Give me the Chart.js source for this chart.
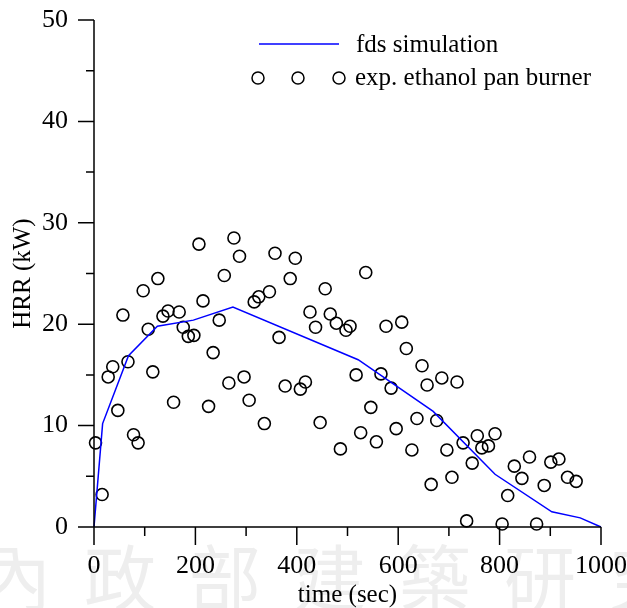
<!DOCTYPE html>
<html>
<head>
<meta charset="utf-8">
<script src="https://cdn.jsdelivr.net/npm/chart.js@4.4.0/dist/chart.umd.min.js"></script>
<style>
  html, body { margin: 0; padding: 0; background: #fff; }
  #wrap { width: 627px; height: 608px; }
</style>
</head>
<body>
<div id="wrap"><canvas id="chart"></canvas></div>
<script>
// fds simulation curve (time in sec, HRR in kW)
const simTime = [0, 17, 68, 125, 196, 274, 521, 669, 791, 903, 959, 1000];
const simHrr = [0, 10.2, 16.9, 19.8, 20.4, 21.7, 16.5, 11.4, 5.2, 1.5, 0.9, 0];

// exp. ethanol pan burner readings
const expTime = [3, 16, 28, 37, 47, 57, 67, 78, 87, 97,
  107, 116, 126, 136, 146, 157, 168, 176, 186, 197,
  207, 215, 226, 235, 247, 257, 266, 276, 287, 296,
  306, 316, 325, 336, 346, 357, 365, 377, 387, 397,
  407, 417, 426, 437, 446, 456, 466, 478, 486, 497,
  505, 517, 526, 536, 546, 557, 566, 576, 586, 596,
  607, 616, 627, 637, 647, 657, 665, 676, 686, 696,
  706, 716, 728, 735, 746, 756, 765, 778, 791, 805,
  816, 829, 844, 859, 873, 888, 901, 917, 934, 951];
const expHrr = [8.3, 3.2, 14.8, 15.8, 11.5, 20.9, 16.3, 9.1, 8.3, 23.3,
  19.5, 15.3, 24.5, 20.8, 21.3, 12.3, 21.2, 19.7, 18.8, 18.9,
  27.9, 22.3, 11.9, 17.2, 20.4, 24.8, 14.2, 28.5, 26.7, 14.8,
  12.5, 22.2, 22.7, 10.2, 23.2, 27.0, 18.7, 13.9, 24.5, 26.5,
  13.6, 14.3, 21.2, 19.7, 10.3, 23.5, 21.0, 20.1, 7.7, 19.4,
  19.8, 15.0, 9.3, 25.1, 11.8, 8.4, 15.1, 19.8, 13.7, 9.7,
  20.2, 17.6, 7.6, 10.7, 15.9, 14.0, 4.2, 10.5, 14.7, 7.6,
  4.9, 14.3, 8.3, 0.6, 6.3, 9.0, 7.8, 8.0, 9.2, 0.3,
  3.1, 6.0, 4.8, 6.9, 0.3, 4.1, 6.4, 6.7, 4.9, 4.5];

const xTicks = [0, 200, 400, 600, 800, 1000];
const xMinor = [100, 300, 500, 700, 900];
const yTicks = [0, 10, 20, 30, 40, 50];
const yMinor = [5, 15, 25, 35, 45];

const serif = "'Liberation Serif', 'Times New Roman', serif";
const watermark = ['內', '政', '部', '建', '築', '研', '究'];

// axes, ticks, titles, legend and the faint watermark are painted by hand
const decor = {
  id: 'decor',
  beforeDraw(chart) {
    const ctx = chart.ctx;
    ctx.save();
    ctx.fillStyle = '#eeeeee';
    ctx.font = "72px 'Noto Sans CJK TC'";
    ctx.textAlign = 'center';
    ctx.textBaseline = 'top';
    watermark.forEach((ch, i) => {
      ctx.fillText(ch, 15 + i * 105, 542);
    });
    ctx.restore();
  },
  afterDraw(chart) {
    const { ctx, chartArea: a, scales: { x, y } } = chart;
    ctx.save();
    ctx.strokeStyle = '#000';
    ctx.lineWidth = 1.5;
    ctx.beginPath();
    ctx.moveTo(a.left, a.top);
    ctx.lineTo(a.left, a.bottom);
    ctx.lineTo(a.right, a.bottom);
    xTicks.forEach(v => { const p = x.getPixelForValue(v); ctx.moveTo(p, a.bottom); ctx.lineTo(p, a.bottom + 18); });
    xMinor.forEach(v => { const p = x.getPixelForValue(v); ctx.moveTo(p, a.bottom); ctx.lineTo(p, a.bottom + 9); });
    yTicks.forEach(v => { const p = y.getPixelForValue(v); ctx.moveTo(a.left, p); ctx.lineTo(a.left - 16, p); });
    yMinor.forEach(v => { const p = y.getPixelForValue(v); ctx.moveTo(a.left, p); ctx.lineTo(a.left - 8, p); });
    ctx.stroke();

    ctx.fillStyle = '#000';
    ctx.font = '25px ' + serif;
    ctx.textAlign = 'center';
    ctx.textBaseline = 'middle';
    ctx.fillText('time (sec)', (a.left + a.right) / 2, 595);
    ctx.save();
    ctx.translate(23, (a.top + a.bottom) / 2);
    ctx.rotate(-Math.PI / 2);
    ctx.fillText('HRR (kW)', 0, 0);
    ctx.restore();

    // legend
    ctx.strokeStyle = '#0000ff';
    ctx.beginPath();
    ctx.moveTo(259, 44);
    ctx.lineTo(339, 44);
    ctx.stroke();
    ctx.strokeStyle = '#000';
    [258, 298, 339].forEach(cx => {
      ctx.beginPath();
      ctx.arc(cx, 78, 6, 0, Math.PI * 2);
      ctx.stroke();
    });
    ctx.textAlign = 'left';
    ctx.fillText('fds simulation', 356, 45);
    ctx.fillText('exp. ethanol pan burner', 355, 78);
    ctx.restore();
  }
};

new Chart(document.getElementById('chart'), {
  type: 'scatter',
  data: {
    datasets: [{
      label: 'fds simulation',
      data: simTime.map((t, i) => ({ x: t, y: simHrr[i] })),
      showLine: true,
      borderColor: '#0000ff',
      borderWidth: 1.5,
      pointRadius: 0,
      tension: 0,
      clip: false
    }, {
      label: 'exp. ethanol pan burner',
      data: expTime.map((t, i) => ({ x: t, y: expHrr[i] })),
      pointStyle: 'circle',
      pointRadius: 6,
      borderColor: '#000',
      borderWidth: 1.6,
      backgroundColor: 'rgba(0,0,0,0)',
      clip: false
    }]
  },
  options: {
    responsive: true,
    maintainAspectRatio: false,
    animation: false,
    layout: { padding: { top: 20, right: 26, left: 0, bottom: 0 } },
    plugins: { legend: { display: false }, tooltip: { enabled: false } },
    scales: {
      x: {
        type: 'linear', min: 0, max: 1000,
        afterBuildTicks: s => { s.ticks = xTicks.map(v => ({ value: v })); },
        afterFit: s => { s.height = 81; s.paddingLeft = 0; s.paddingRight = 0; },
        grid: { drawOnChartArea: false, tickLength: 18, color: 'rgba(0,0,0,0)' },
        border: { display: false },
        ticks: { color: '#000', padding: 6, maxRotation: 0, callback: v => String(v),
          font: { family: serif, size: 26 } }
      },
      y: {
        type: 'linear', min: 0, max: 50,
        afterBuildTicks: s => { s.ticks = yTicks.map(v => ({ value: v })); },
        afterFit: s => { s.width = 94; s.paddingTop = 0; s.paddingBottom = 0; },
        grid: { drawOnChartArea: false, tickLength: 16, color: 'rgba(0,0,0,0)' },
        border: { display: false },
        ticks: { color: '#000', padding: 10, callback: v => String(v),
          font: { family: serif, size: 26 } }
      }
    }
  },
  plugins: [decor]
});
</script>
</body>
</html>
